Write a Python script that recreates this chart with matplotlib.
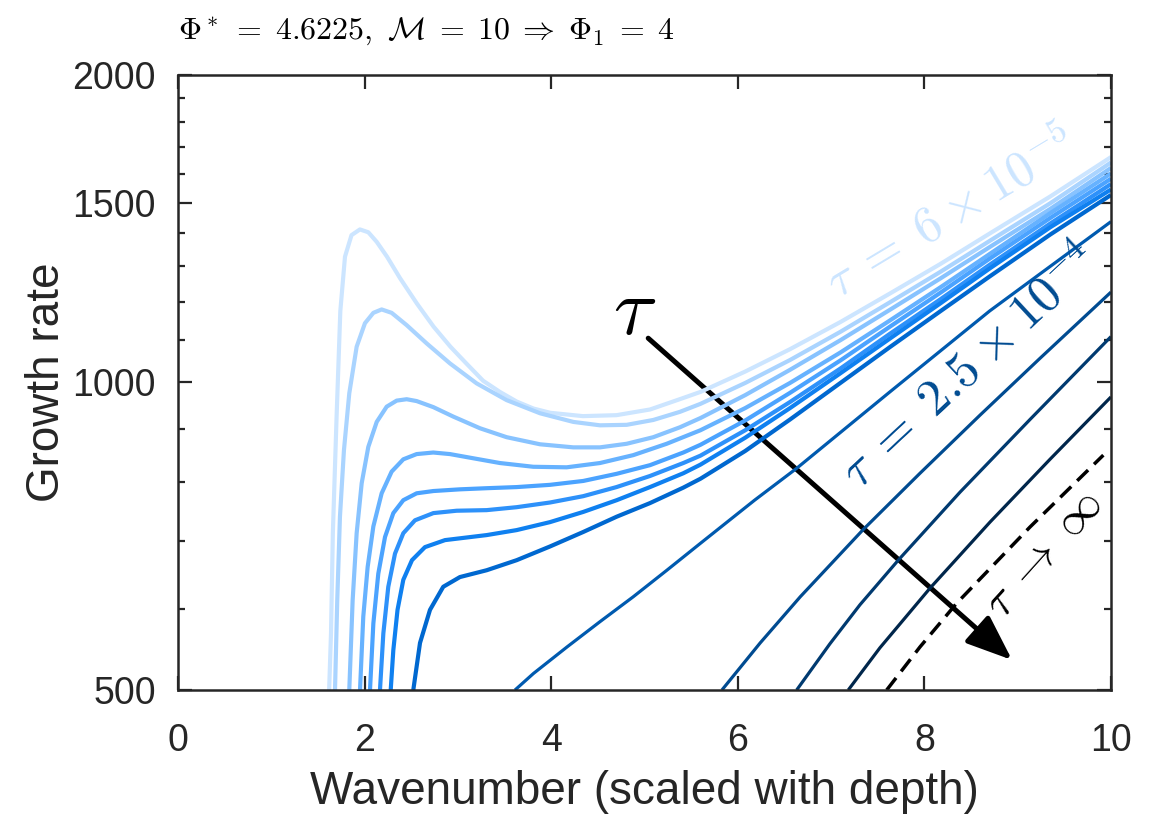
import matplotlib
matplotlib.use('Agg')
import matplotlib.pyplot as plt
from matplotlib.patches import FancyArrowPatch

plt.rcParams['font.family'] = ['Liberation Sans', 'DejaVu Sans']
plt.rcParams['mathtext.fontset'] = 'cm'

# growth rate curves (wavenumber, growth rate)
k1 = [1.62, 1.64, 1.66, 1.70, 1.74, 1.79, 1.86, 1.95, 2.04, 2.13, 2.24, 2.38, 2.56, 2.74, 2.92, 3.09, 3.27,
      3.45, 3.63, 3.81, 3.99, 4.34, 4.70, 5.06, 5.42, 5.60, 6.08, 6.56, 7.10, 7.63, 8.17, 8.70, 9.35, 10.0]
g1 = [500, 568, 713, 926, 1175, 1328, 1394, 1412, 1403, 1373, 1328, 1265, 1195, 1134, 1084, 1044, 1004,
      979, 958, 943, 934, 927, 929, 941, 966, 979, 1025, 1078, 1146, 1222, 1306, 1399, 1521, 1662]
k2 = [1.683, 1.707, 1.736, 1.779, 1.836, 1.915, 2.004, 2.094, 2.183, 2.29, 2.451, 2.666, 2.915, 3.201, 3.523,
      3.88, 4.237, 4.523, 4.809, 5.094, 5.38, 5.60, 6.08, 6.56, 7.10, 7.63, 8.17, 8.70, 9.35, 10.0]
g2 = [500, 612, 739, 859, 976, 1084, 1143, 1170, 1179, 1170, 1138, 1092, 1044, 998, 961,
      933, 915, 908, 909, 919, 936, 953, 999, 1052, 1121, 1198, 1283, 1376, 1498, 1642]
k3 = [1.836, 1.872, 1.915, 1.969, 2.04, 2.13, 2.237, 2.344, 2.451, 2.558, 2.737, 2.951, 3.237, 3.523, 3.88,
      4.237, 4.523, 4.809, 5.094, 5.38, 5.60, 6.08, 6.56, 7.10, 7.63, 8.17, 8.70, 9.35, 10.0]
g3 = [500, 612, 712, 797, 865, 915, 947, 960, 963, 959, 946, 926, 902, 884, 870,
      864, 864, 871, 884, 904, 923, 972, 1029, 1100, 1178, 1264, 1357, 1479, 1622]
k4 = [1.951, 1.986, 2.033, 2.094, 2.183, 2.29, 2.415, 2.558, 2.736, 2.915, 3.165, 3.451, 3.808, 4.166, 4.523,
      4.88, 5.238, 5.60, 6.08, 6.56, 7.10, 7.63, 8.17, 8.70, 9.35, 10.0]
g4 = [500, 590, 660, 723, 779, 818, 841, 851, 854, 851, 843, 834, 827, 826, 834,
      849, 871, 898, 944, 999, 1070, 1150, 1239, 1336, 1465, 1602]
k5 = [2.058, 2.094, 2.147, 2.219, 2.308, 2.415, 2.558, 2.737, 3.022, 3.308, 3.63, 3.987, 4.344, 4.702, 5.059,
      5.416, 5.60, 6.08, 6.56, 7.10, 7.63, 8.17, 8.70, 9.35, 10.0]
g5 = [500, 581, 650, 706, 745, 767, 779, 783, 786, 788, 790, 794, 801, 814, 830,
      854, 869, 918, 977, 1051, 1134, 1224, 1322, 1449, 1583]
k6 = [2.165, 2.201, 2.254, 2.326, 2.415, 2.54, 2.737, 2.987, 3.308, 3.63, 3.987, 4.344, 4.70, 5.059, 5.416,
      5.60, 6.08, 6.56, 7.10, 7.63, 8.17, 8.70, 9.35, 10.0]
g6 = [500, 568, 631, 680, 712, 733, 745, 749, 750, 755, 763, 774, 790, 810, 834,
      848, 898, 957, 1032, 1116, 1206, 1304, 1431, 1564]
k7 = [2.28, 2.308, 2.353, 2.415, 2.508, 2.647, 2.862, 3.309, 3.63, 3.987, 4.344, 4.702, 5.059, 5.416,
      5.60, 6.08, 6.56, 7.10, 7.63, 8.17, 8.70, 9.35, 10.0]
g7 = [500, 547, 599, 641, 670, 690, 701, 709, 717, 730, 747, 767, 790, 815,
      831, 883, 944, 1021, 1104, 1195, 1293, 1419, 1545]
k8 = [2.522, 2.594, 2.701, 2.843, 3.022, 3.309, 3.63, 3.987, 4.344, 4.702, 5.059, 5.416, 5.60, 6.08, 6.56,
      7.10, 7.63, 8.17, 8.70, 9.35, 10.0]
g8 = [500, 556, 599, 631, 645, 655, 670, 691, 714, 739, 762, 789, 805, 857, 920,
      999, 1083, 1174, 1270, 1396, 1526]
k9 = [3.612, 3.81, 4.17, 4.52, 4.88, 5.24, 5.60, 6.18, 6.63, 7.63, 8.70, 10.0]
g9 = [500, 519, 551, 583, 617, 655, 696, 767, 824, 979, 1175, 1437]
k10 = [5.83, 6.24, 6.67, 7.345, 7.953, 8.596, 9.239, 10.0]
g10 = [500, 556, 617, 718, 815, 929, 1056, 1226]
k11 = [6.631, 6.988, 7.31, 7.72, 8.382, 9.132, 10.0]
g11 = [500, 555, 606, 670, 781, 920, 1109]
k12 = [7.184, 7.524, 8.06, 8.703, 9.346, 10.0]
g12 = [500, 550, 629, 730, 841, 968]
# tau -> infinity limit
k_inf = [7.596, 7.953, 8.346, 9.132, 9.918]
g_inf = [500, 551, 608, 722, 849]

curves = [(k1, g1), (k2, g2), (k3, g3), (k4, g4), (k5, g5), (k6, g6), (k7, g7), (k8, g8),
          (k9, g9), (k10, g10), (k11, g11), (k12, g12)]
colors = ['#cce5ff', '#aad4ff', '#88c3ff', '#66b2ff', '#4ba3ff', '#2d91fa', '#0f80f0', '#0068d0',
          '#005aaf', '#004b91', '#003a70', '#00264b']
widths = [3.0] * 8 + [2.3] * 4

yticks = [500, 1000, 1500, 2000]
yminor = [600, 700, 800, 900, 1100, 1200, 1300, 1400, 1600, 1700, 1800, 1900]
xticks = [0, 2, 4, 6, 8, 10]

fig = plt.figure(figsize=(11.58, 8.14), dpi=100)
ax = fig.add_axes([0.1537, 0.1523, 0.8057, 0.7556])

for (k, g), c, w in zip(curves, colors, widths):
    ax.plot(k, g, color=c, lw=w, solid_capstyle='butt', solid_joinstyle='round')
ax.plot(k_inf, g_inf, color='k', lw=2.5, dashes=(4.4, 2.4))

ax.set_yscale('log')
ax.set_xlim(0, 10)
ax.set_ylim(500, 2000)
ax.set_xticks(xticks)
ax.set_yticks(yticks)
ax.set_yticks(yminor, minor=True)
ax.set_yticklabels([str(t) for t in yticks])
ax.yaxis.set_minor_formatter(plt.NullFormatter())
ax.tick_params(which='both', direction='in', top=True, right=True, colors='#262626',
               labelsize=27, width=1.6)
ax.tick_params(axis='x', pad=24)
ax.tick_params(axis='y', pad=16)
ax.tick_params(which='major', length=10)
ax.tick_params(which='minor', length=5)
for s in ax.spines.values():
    s.set_linewidth(1.8)
    s.set_color('#262626')

ax.set_xlabel('Wavenumber (scaled with depth)', fontsize=33, color='#262626', labelpad=8)
ax.set_ylabel('Growth rate', fontsize=33, color='#262626', labelpad=2)

ax.text(0, 1.058, r'$\Phi^*\;=\;4.6225,\ \mathcal{M}\;=\;10\;\Rightarrow\;\Phi_1\;=\;4$',
        transform=ax.transAxes, fontsize=23, ha='left', va='baseline')

ax.text(8.29, 1462, r'$\tau\;=\;6\:\times\:10^{-5}$', color=colors[0], fontsize=36,
        rotation=31, rotation_mode='anchor', ha='center', va='center')
ax.text(8.5, 1035, r'$\tau\;=\;2.5\:\times\:10^{-4}$', color=colors[9], fontsize=37,
        rotation=43, rotation_mode='anchor', ha='center', va='center')
ax.text(9.29, 678, r'$\tau\;\rightarrow\;\infty$', color='k', fontsize=34,
        rotation=48, rotation_mode='anchor', ha='center', va='center')
ax.text(4.89, 1170, r'$\tau$', color='k', fontsize=58, ha='center', va='center')

arrow = FancyArrowPatch((5.04, 1105), (8.94, 535), arrowstyle='-|>,head_length=1.4,head_width=0.55',
                        mutation_scale=20, lw=3.6, color='k', shrinkA=0, shrinkB=0)
ax.add_patch(arrow)

fig.savefig('out.png', dpi=100)
